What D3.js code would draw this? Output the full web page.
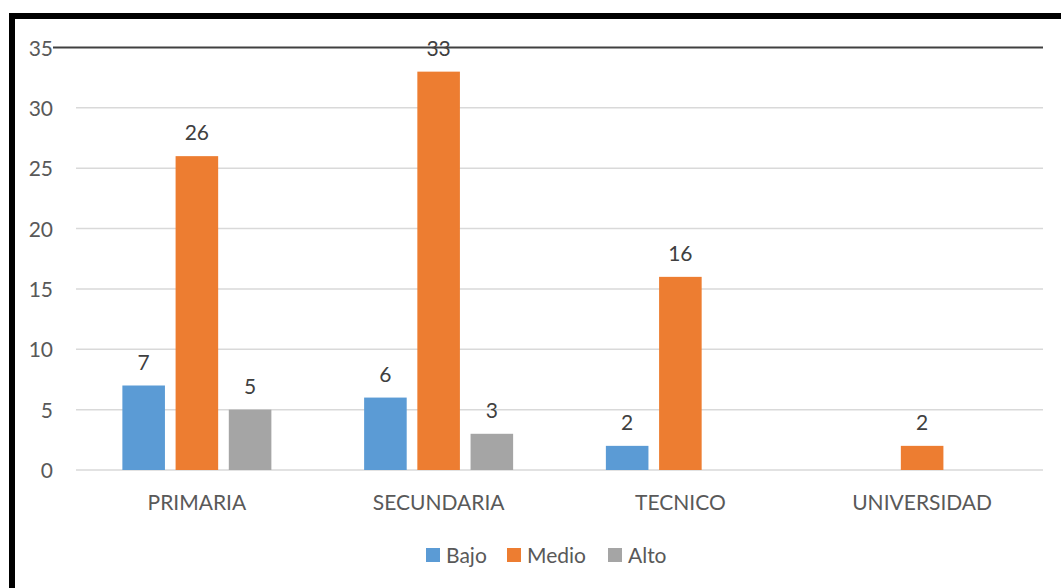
<!DOCTYPE html>
<html>
<head>
<meta charset="utf-8">
<script src="https://cdn.jsdelivr.net/npm/d3@7"></script>
<style>
    html, body { margin: 0; padding: 0; background: #fff; }
    svg { display: block; font-family: Lato, 'Open Sans', sans-serif; }
</style>
</head>
<body>
<svg id="chart"></svg>
<script>
// =============================================================================
// DATA
// =============================================================================
const categories = ['PRIMARIA', 'SECUNDARIA', 'TECNICO', 'UNIVERSIDAD'];
const seriesNames = ['Bajo', 'Medio', 'Alto'];
const bajo  = [7, 6, 2, null];
const medio = [26, 33, 16, 2];
const alto  = [5, 3, null, null];
const yTicks = [0, 5, 10, 15, 20, 25, 30, 35];
const colors = ['#5B9BD5', '#ED7D31', '#A5A5A5'];

const seriesValues = [bajo, medio, alto];

// =============================================================================
// CHART
// =============================================================================
const W = 1061, H = 588;
const svg = d3.select('#chart').attr('width', W).attr('height', H);

const plot = { left: 76, right: 1043, top: 47.5, bottom: 470 };
const FS = '21px';

const x = d3.scaleBand()
    .domain(categories)
    .range([plot.left, plot.right])
    .paddingInner(0)
    .paddingOuter(0);

// bars inside each group span ~149px centred in the band
const groupW = 149;
const xInner = d3.scaleBand()
    .domain(seriesNames)
    .range([(x.bandwidth() - groupW) / 2, (x.bandwidth() + groupW) / 2])
    .paddingInner(0.2);

const y = d3.scaleLinear()
    .domain([0, 35])
    .range([plot.bottom, plot.top]);

// Grid lines
svg.append('g')
    .selectAll('line')
    .data(yTicks.filter(d => d !== 35))
    .enter()
    .append('line')
    .attr('x1', plot.left).attr('x2', plot.right)
    .attr('y1', d => y(d)).attr('y2', d => y(d))
    .attr('stroke', '#d9d9d9')
    .attr('stroke-width', 1.5);

// Y tick labels
svg.append('g')
    .selectAll('text')
    .data(yTicks)
    .enter()
    .append('text')
    .attr('x', 53)
    .attr('y', d => y(d) + 8)
    .attr('text-anchor', 'end')
    .attr('fill', '#595959')
    .attr('font-size', FS)
    .text(d => d);

// Bars
const rows = [];
seriesValues.forEach((vals, s) => {
    vals.forEach((v, i) => {
        if (v != null) rows.push({ cat: categories[i], series: seriesNames[s], value: v, color: colors[s] });
    });
});

svg.append('g')
    .selectAll('rect')
    .data(rows)
    .enter()
    .append('rect')
    .attr('x', d => x(d.cat) + xInner(d.series))
    .attr('y', d => y(d.value))
    .attr('width', xInner.bandwidth())
    .attr('height', d => y(0) - y(d.value))
    .attr('fill', d => d.color);

// Top line at 35 (dark, reaching the label)
svg.append('line')
    .attr('x1', 53).attr('x2', plot.right)
    .attr('y1', y(35)).attr('y2', y(35))
    .attr('stroke', '#404040')
    .attr('stroke-width', 2);

// Data labels
svg.append('g')
    .selectAll('text')
    .data(rows)
    .enter()
    .append('text')
    .attr('x', d => x(d.cat) + xInner(d.series) + xInner.bandwidth() / 2)
    .attr('y', d => y(d.value) - 16)
    .attr('text-anchor', 'middle')
    .attr('fill', '#404040')
    .attr('font-size', FS)
    .text(d => d.value);

// Category labels
svg.append('g')
    .selectAll('text')
    .data(categories)
    .enter()
    .append('text')
    .attr('x', d => x(d) + x.bandwidth() / 2)
    .attr('y', 510)
    .attr('text-anchor', 'middle')
    .attr('fill', '#595959')
    .attr('font-size', FS)
    .text(d => d);

// Legend
const legendX = [426, 507, 608];
const legend = svg.append('g')
    .selectAll('g')
    .data(seriesNames)
    .enter()
    .append('g')
    .attr('transform', (d, i) => `translate(${legendX[i]},548)`);

legend.append('rect')
    .attr('width', 14).attr('height', 14)
    .attr('fill', (d, i) => colors[i]);

legend.append('text')
    .attr('x', 20)
    .attr('y', 14.5)
    .attr('fill', '#595959')
    .attr('font-size', FS)
    .text(d => d);

// Black frame (left + top)
svg.append('path')
    .attr('d', `M12,${H} L12,16 L${W},16`)
    .attr('fill', 'none')
    .attr('stroke', '#000')
    .attr('stroke-width', 6);
</script>
</body>
</html>
